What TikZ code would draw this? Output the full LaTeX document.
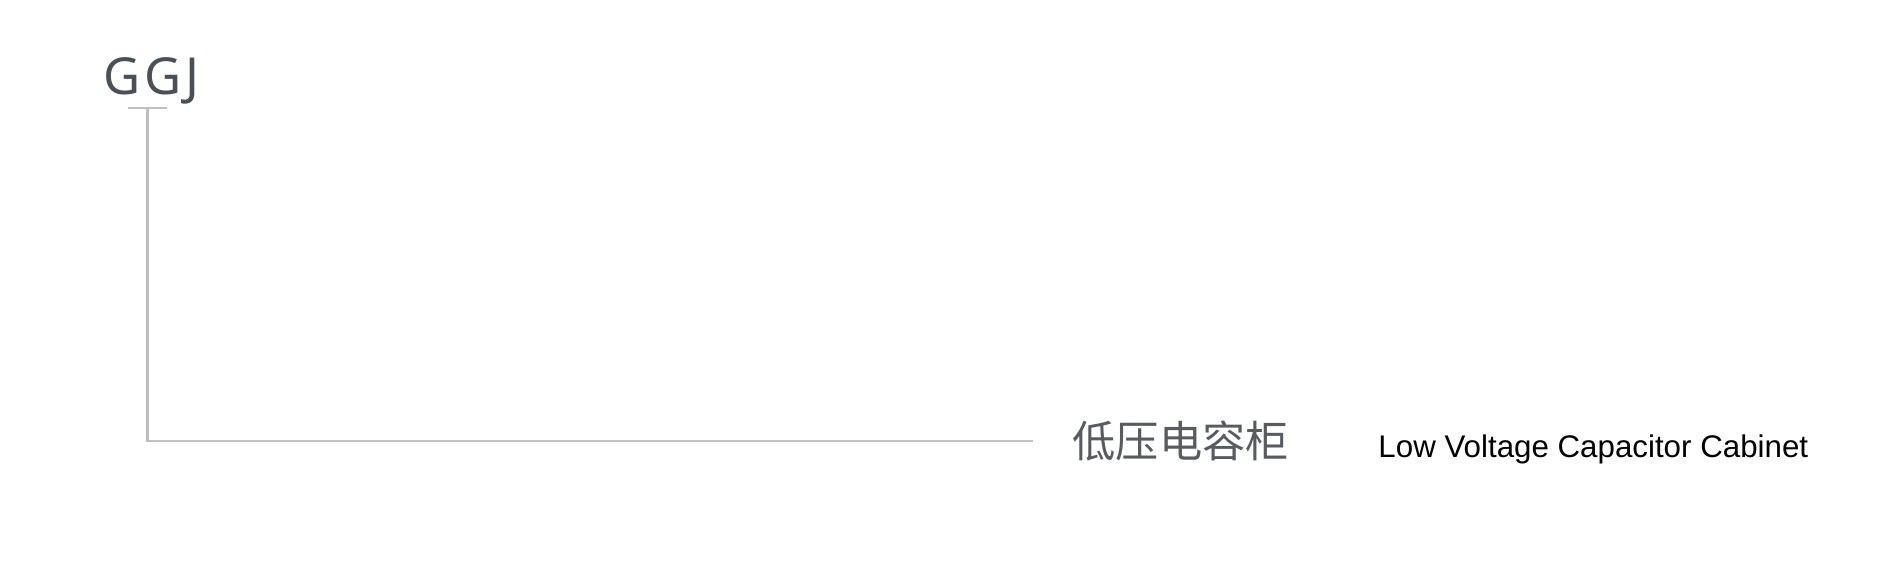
\documentclass[tikz,border=0pt]{standalone}
\usepackage{fontspec}
\setmainfont{Liberation Sans}
\newfontfamily\cjk{Noto Sans CJK SC}
\newfontfamily\codefont[LetterSpace=7]{Noto Sans}
\usetikzlibrary{positioning}
\definecolor{leader}{RGB}{190,190,195}
\definecolor{codegray}{RGB}{75,80,86}
\definecolor{namegray}{RGB}{88,92,97}
\tikzset{
    leadline/.style={draw=leader,line width=0.6pt},
    codetext/.style={inner sep=0,text=codegray,font=\codefont\fontsize{14.5}{16}\selectfont},
    nametext/.style={inner sep=0,text=namegray,font=\cjk\fontsize{12.3}{14}\selectfont},
    transtext/.style={inner sep=0,text=black,font=\fontsize{8.9}{10}\selectfont}
}

\begin{document}
\begin{tikzpicture}[x=0.01cm,y=-0.01cm]
    \useasboundingbox (0,0) rectangle (1904,564);
    \node[codetext,anchor=base west] (ggj) at (103,95) {GGJ};
    \coordinate (tickl) at (128,108);
    \coordinate (tickr) at (167,108);
    \coordinate (tick) at (147.5,108);
    \node[nametext,anchor=west] (cabinet) at (1072,441) {低压电容柜};
    \node[transtext,anchor=base west,right=0.88cm of cabinet.base east,yshift=0.085cm] (cabinet-en) {Low Voltage Capacitor Cabinet};
    \draw[leadline] (tickl) -- (tickr);
    \draw[leadline,shorten >=0.39cm] (tick) |- (cabinet.west);
\end{tikzpicture}
\end{document}
